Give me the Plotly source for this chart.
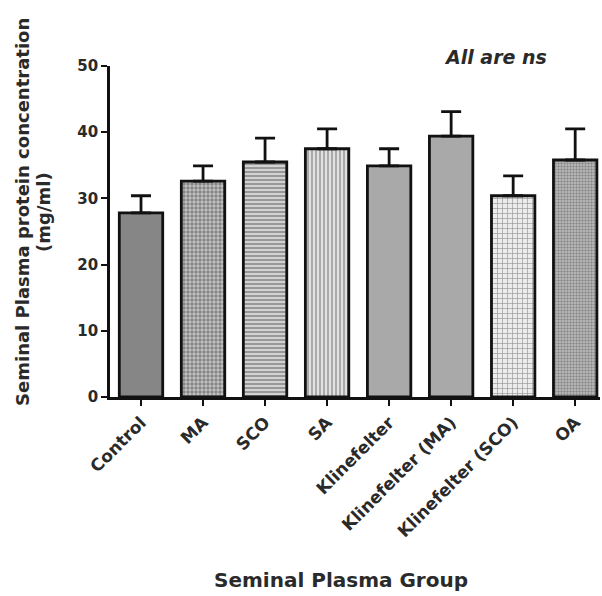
import plotly.graph_objects as go

groups = ["Control", "MA", "SCO", "SA", "Klinefelter", "Klinefelter (MA)", "Klinefelter (SCO)", "OA"]
means = [27.8, 32.6, 35.5, 37.5, 34.9, 39.4, 30.4, 35.8]
sem = [2.6, 2.3, 3.6, 3.0, 2.6, 3.7, 3.0, 4.7]
y_ticks = [0, 10, 20, 30, 40, 50]

shapes_ = ["", ".", "-", "|", "", "", "+", "+"]
fg = ["#888888", "#444444", "#9a9a9a", "#b0b0b0", "#a9a9a9", "#a9a9a9", "#8a8a8a", "#7a7a7a"]
bg = ["#868686", "#c4c4c4", "#d2d2d2", "#e0e0e0", "#a9a9a9", "#a9a9a9", "#ececec", "#b4b4b4"]
psize = [4, 4, 4, 4, 4, 4, 5, 3]
solid = [0.3, 0.55, 0.4, 0.35, 0.3, 0.3, 0.25, 0.3]

FONT = "DejaVu Sans"

fig = go.Figure()
fig.add_trace(go.Bar(
    x=groups, y=means, width=0.7,
    marker=dict(color=bg, line=dict(color="#111", width=2.8),
                pattern=dict(shape=shapes_, fgcolor=fg, bgcolor=bg, size=psize, solidity=solid, fillmode="overlay")),
    error_y=dict(type="data", symmetric=False, array=sem, arrayminus=[0]*len(sem),
                 color="#111", thickness=2.8, width=10),
))

fig.update_layout(
    width=602, height=596,
    margin=dict(l=110, r=2, t=66, b=199),
    paper_bgcolor="white", plot_bgcolor="white",
    showlegend=False,
    font=dict(family=FONT, color="#2a2a2a"),
    xaxis=dict(range=[-0.5, 7.4], showline=True, linecolor="#111", linewidth=2.8,
               ticks="outside", ticklen=6, tickwidth=2, tickcolor="#111",
               tickangle=-45, tickfont=dict(family=FONT, size=17, color="#2a2a2a", weight="bold"),
               showgrid=False, zeroline=False, fixedrange=True),
    yaxis=dict(range=[0, 50], tickvals=y_ticks, showline=True, linecolor="#111", linewidth=2.8,
               ticks="outside", ticklen=6, tickwidth=2, tickcolor="#111",
               tickfont=dict(family=FONT, size=15, color="#2a2a2a", weight="bold"),
               showgrid=False, zeroline=False),
    annotations=[
        dict(text="<b>Seminal Plasma protein concentration</b>", textangle=-90,
             xref="paper", yref="paper", x=0, y=0.559, xshift=-87, showarrow=False,
             xanchor="center", yanchor="middle",
             font=dict(family=FONT, size=18, color="#2a2a2a")),
        dict(text="<b>(mg/ml)</b>", textangle=-90,
             xref="paper", yref="paper", x=0, y=0.559, xshift=-66, showarrow=False,
             xanchor="center", yanchor="middle",
             font=dict(family=FONT, size=18, color="#2a2a2a")),
        dict(text="<b><i>All are ns</i></b>", xref="paper", yref="paper",
             x=(495 - 110) / 490, y=(397 - 57) / 331, showarrow=False,
             xanchor="center", yanchor="middle",
             font=dict(family=FONT, size=19, color="#2a2a2a")),
        dict(text="<b>Seminal Plasma Group</b>", xref="paper", yref="paper",
             x=(341 - 110) / 490, y=(397 - 580) / 331, showarrow=False,
             xanchor="center", yanchor="middle",
             font=dict(family=FONT, size=20, color="#2a2a2a")),
    ],
)

fig.write_html("out.html", config={"displayModeBar": False},
               post_script="document.body.style.margin='0';document.body.style.overflow='hidden';")
